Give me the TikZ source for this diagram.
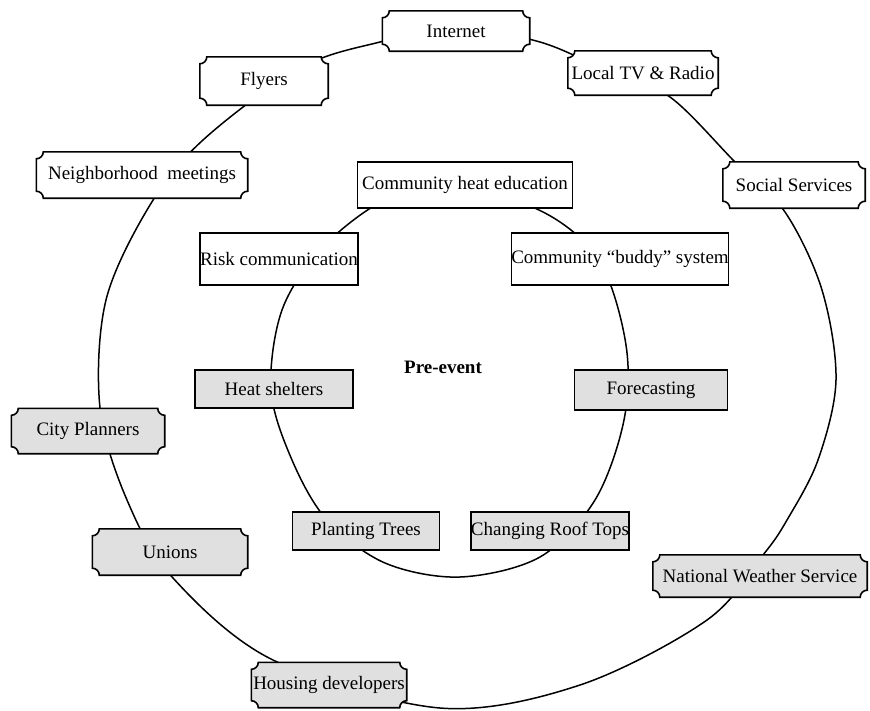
\documentclass[tikz,border=0pt]{standalone}
\usepackage{fontspec}
\setmainfont{Liberation Serif}
\usetikzlibrary{calc}
\pgfdeclarelayer{ring}
\pgfdeclarelayer{bg}
\pgfsetlayers{ring,bg,main}
\definecolor{boxgray}{gray}{0.88}
\tikzset{
  lbl/.style={font=\fontsize{19}{22}\selectfont, inner sep=0pt, align=center},
  rbox/.style={lbl, draw, line width=1.5pt, fill=white},
  gbox/.style={rbox, fill=boxgray},
  ringline/.style={line width=1.5pt},
  plaqline/.style={line width=1.6pt},
}
\newcommand\plaq[2]{%
  \begin{pgfonlayer}{bg}
  \draw[plaqline, fill=#2] let \p1=(#1.south west), \p2=(#1.north east) in
    ({\x1+7pt},\y1) -- ({\x2-7pt},\y1) arc[start angle=180,end angle=90,radius=7pt]
    -- (\x2,{\y2-7pt}) arc[start angle=270,end angle=180,radius=7pt]
    -- ({\x1+7pt},\y2) arc[start angle=0,end angle=-90,radius=7pt]
    -- (\x1,{\y1+7pt}) arc[start angle=90,end angle=0,radius=7pt] -- cycle;
  \end{pgfonlayer}}
\begin{document}
\begin{tikzpicture}[x=1pt,y=-1pt]
\useasboundingbox (0,0) rectangle (870,710);
% outer plaque nodes
\node[lbl, minimum width=147, minimum height=40] (internet) at (456,31) {Internet};
\node[lbl, minimum width=150, minimum height=44] (localtv) at (643,73) {Local TV \& Radio};
\node[lbl, minimum width=128, minimum height=48] (flyers) at (264,81) {Flyers};
\node[lbl, minimum width=211, minimum height=46] (neigh) at (142,175) {Neighborhood\ \ meetings};
\node[lbl, minimum width=142, minimum height=46] (social) at (794,185) {Social Services};
\node[lbl, minimum width=153, minimum height=45] (city) at (88,431) {City Planners};
\node[lbl, minimum width=155, minimum height=46] (unions) at (170,552) {Unions};
\node[lbl, minimum width=155, minimum height=45] (housing) at (329,685) {Housing developers};
\node[lbl, minimum width=214, minimum height=42] (nws) at (760,576) {National Weather Service};
\plaq{internet}{white}
\plaq{localtv}{white}
\plaq{flyers}{white}
\plaq{neigh}{white}
\plaq{social}{white}
\plaq{city}{boxgray}
\plaq{unions}{boxgray}
\plaq{housing}{boxgray}
\plaq{nws}{boxgray}
% inner boxes
\node[rbox, minimum width=215, minimum height=46] (che) at (465,185) {Community heat education};
\node[rbox, minimum width=157, minimum height=52] (risk) at (279,259) {Risk communication};
\node[rbox, minimum width=185, minimum height=52] (buddy) at (620,259) {Community ``buddy'' system};
\node[gbox, minimum width=158, minimum height=38] (shelters) at (274,389) {Heat shelters};
\node[gbox, minimum width=153, minimum height=40] (forecast) at (651,390) {Forecasting};
\node[gbox, minimum width=147, minimum height=38] (trees) at (366,531) {Planting Trees};
\node[gbox, minimum width=130, minimum height=38] (roof) at (550,531) {Changing Roof Tops};
\node[lbl, font=\fontsize{19}{22}\selectfont\bfseries] (pre) at (443,367) {Pre-event};
% rings
\begin{pgfonlayer}{ring}
\draw[ringline] plot[smooth cycle, tension=0.55] coordinates {
 (380,42) (456,28) (540,42) (610,72) (670,97) (735,162) (785,212) (822,290)
 (836,380) (818,460) (787,520) (763,555) (707,620) (580,685) (440,708) (273,660)
 (173,578) (127,500) (100,408) (106,300) (150,205) (203,140) (300,68)};
\draw[ringline] plot[smooth cycle, tension=0.55] coordinates {
 (455,185) (545,213) (600,262) (626,345) (624,420) (595,500) (540,557) (460,577)
 (385,563) (327,520) (292,460) (271,390) (282,310) (322,248) (385,200)};
\end{pgfonlayer}
\end{tikzpicture}
\end{document}
